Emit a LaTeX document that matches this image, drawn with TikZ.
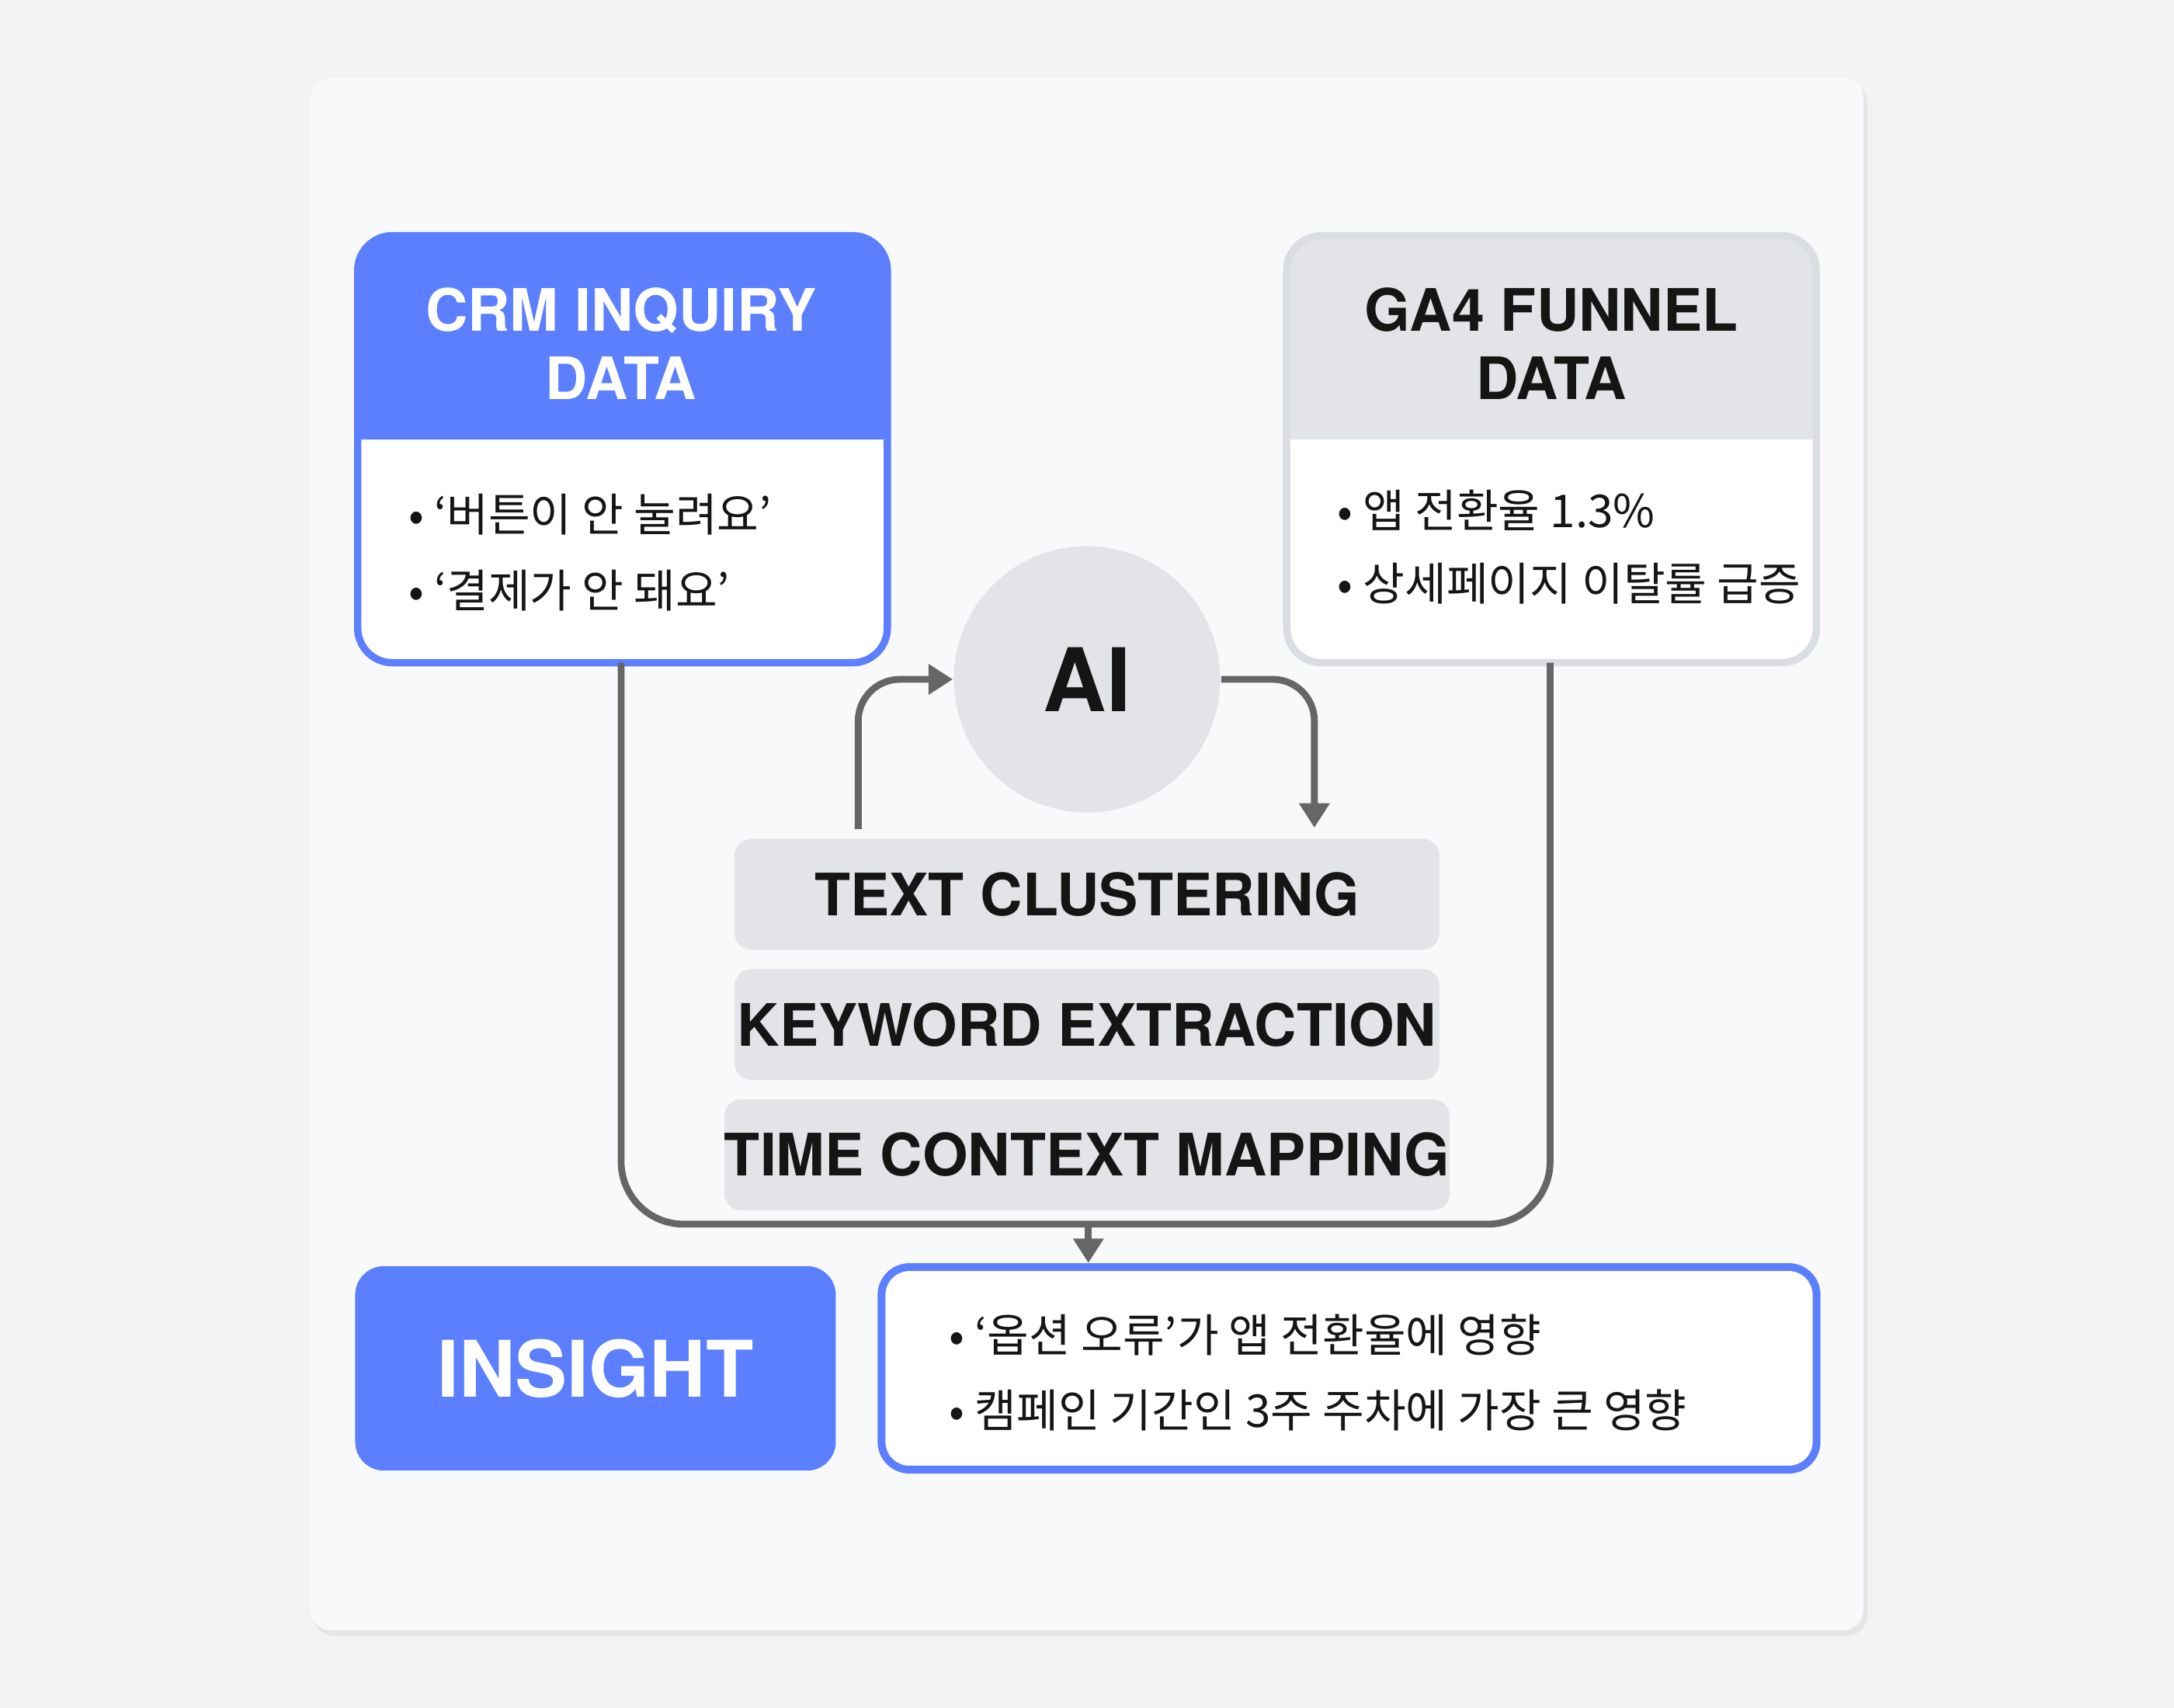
\documentclass[tikz,border=0pt]{standalone}
\usepackage{fontspec}
\setmainfont{TeX Gyre Heros}
\newfontfamily\kr{Noto Sans CJK KR}
\usetikzlibrary{arrows.meta,positioning}
\definecolor{bg}{HTML}{F3F3F4}
\definecolor{card}{HTML}{F8F9FA}
\definecolor{crmblue}{HTML}{5B7FFF}
\definecolor{lgray}{HTML}{E2E4E8}
\definecolor{bgray}{HTML}{DADDE2}
\definecolor{ink}{HTML}{151515}
\definecolor{line}{HTML}{666666}
\tikzset{
  every node/.style={inner sep=0pt},
  conn/.style={draw=line, line width=1.4pt, rounded corners=0.3cm},
  tip/.style={-{Triangle[length=5pt,width=6pt]}},
  proc/.style={fill=lgray, rounded corners=0.12cm, minimum width=5.08cm, minimum height=0.8cm, font=\bfseries\fontsize{12}{14}\selectfont, text=ink},
  bul/.style={font=\kr\fontsize{9.3}{11}\selectfont, text=ink, anchor=west},
}
\begin{document}
\begin{tikzpicture}[x=0.01cm,y=-0.01cm]
\useasboundingbox (0,0) rectangle (1568,1232);
\fill[bg] (0,0) rectangle (1568,1232);
\fill[black!10,rounded corners=0.15cm] (226,60) rectangle (1347,1180);
\fill[card,rounded corners=0.15cm] (224,56) rectangle (1344,1176);
% CRM
\fill[white,rounded corners=0.25cm] (258,170) rectangle (640,478);
\fill[crmblue] (258,317) [rounded corners=0.25cm] -- (258,170) -- (640,170) [sharp corners] -- (640,317) -- cycle;
\draw[crmblue,line width=1.5pt,rounded corners=0.25cm] (258,170) rectangle (640,478);
\node[font=\bfseries\fontsize{12}{14}\selectfont,text=white,align=center] (crmh) at (448,248) {CRM INQUIRY\\DATA};
\coordinate (crm) at (448,478);
\node[bul] (c1) at (294,371) {•\ ‘버튼이 안 눌려요’};
\node[bul] (c2) at (294,426) {•\ ‘결제가 안 돼요’};
% GA4
\fill[white,rounded corners=0.25cm] (928,170) rectangle (1310,478);
\fill[lgray] (928,317) [rounded corners=0.25cm] -- (928,170) -- (1310,170) [sharp corners] -- (1310,317) -- cycle;
\draw[bgray,line width=1.5pt,rounded corners=0.25cm] (928,170) rectangle (1310,478);
\node[font=\bfseries\fontsize{12}{14}\selectfont,text=ink,align=center] (gah) at (1119,248) {GA4 FUNNEL\\DATA};
\coordinate (ga) at (1118,478);
\node[bul] (g1) at (964,368) {•\ 앱 전환율 1.3\%};
\node[bul] (g2) at (964,421) {•\ 상세페이지 이탈률 급증};
% AI
\node[circle,fill=lgray,minimum size=1.92cm,font=\bfseries\fontsize{18}{20}\selectfont,text=ink] (ai) at (784,490) {AI};
% process
\node[proc] (p1) at (784,645) {TEXT CLUSTERING};
\node[proc] (p2) at (784,739) {KEYWORD EXTRACTION};
\node[proc] (p3) at (784,833) {TIME CONTEXT MAPPING};
\coordinate (lstart) at (619,598);
\draw[conn,tip] (lstart) |- (ai.west);
\coordinate (rend) at (948,597);
\draw[conn,tip] (ai.east) -| (rend);
% loop
\coordinate (bl) at (448,883);
\coordinate (br) at (1118,883);
\draw[conn,rounded corners=0.45cm] (crm) -- (bl) -- (br) -- (ga);
\coordinate (mid) at (785,883);
\coordinate (down) at (785,911);
\draw[conn,tip] (mid) -- (down);
% insight
\node[fill=crmblue,draw=crmblue,rounded corners=0.2cm,minimum width=3.45cm,minimum height=1.46cm,font=\bfseries\fontsize{16}{18}\selectfont,text=white] (ins) at (429.5,987) {INSIGHT};
\node[fill=white,draw=crmblue,line width=1.6pt,rounded corners=0.2cm,minimum width=6.74cm,minimum height=1.46cm] (res) at (973,987) {};
\node[bul] (r1) at (684,963) {•\ ‘옵션 오류’가 앱 전환율에 영향};
\node[bul] (r2) at (684,1017) {•\ 캠페인 기간인 3주 주차에 가장 큰 영향};
\end{tikzpicture}
\end{document}
